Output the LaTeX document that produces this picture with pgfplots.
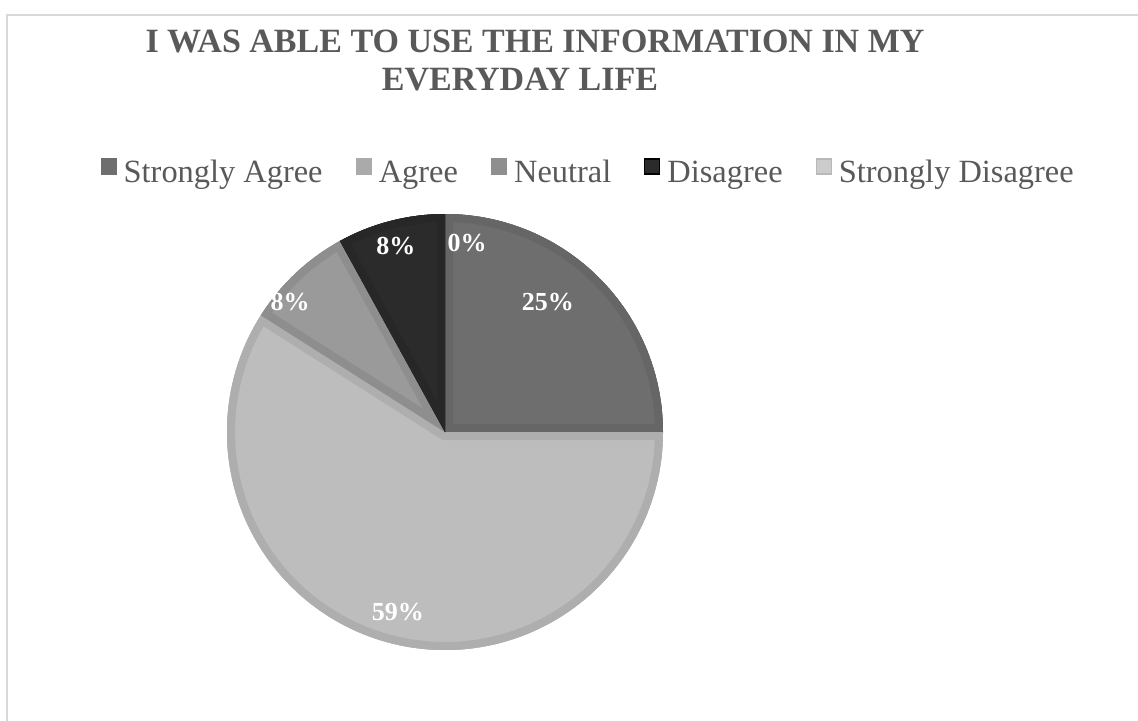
\documentclass[border=0pt]{standalone}
\usepackage{pgfplots}
\pgfplotsset{compat=1.18}
\usepackage{fontspec}
\setmainfont{Liberation Serif}

\definecolor{saF}{HTML}{6E6E6E}\definecolor{saB}{HTML}{666666}
\definecolor{agF}{HTML}{BDBDBD}\definecolor{agB}{HTML}{AEAEAE}
\definecolor{neF}{HTML}{9A9A9A}\definecolor{neB}{HTML}{8E8E8E}
\definecolor{diF}{HTML}{2B2B2B}\definecolor{diB}{HTML}{272727}
\definecolor{sdF}{HTML}{CCCCCC}\definecolor{sdB}{HTML}{B8B8B8}
\definecolor{txt}{HTML}{595959}
\definecolor{framec}{HTML}{D9D9D9}

% shares in percent, clockwise from 12 o'clock
\def\pSA{25}
\def\pAG{59}
\def\pNE{8}
\def\pDI{8}
\def\pSD{0}

\pgfmathsetmacro\aA{90}
\pgfmathsetmacro\aB{\aA-3.6*\pSA}
\pgfmathsetmacro\aC{\aB-3.6*\pAG}
\pgfmathsetmacro\aD{\aC-3.6*\pNE}
\pgfmathsetmacro\aE{\aD-3.6*\pDI}

\tikzset{
  slice/.style 2 args={fill=#1, draw=none,
    postaction={clip, postaction={draw=#2, line width=8pt}}},
  lbl/.style={text=white, font=\bfseries\fontsize{13}{15}\selectfont},
}

\begin{document}
\begin{tikzpicture}
\useasboundingbox (0pt,0pt) rectangle (569pt,-360pt);
\fill[white] (0pt,0pt) rectangle (569pt,-360pt);
\draw[framec, line width=1pt] (3.5pt,-7.5pt) rectangle (580pt,-370pt);

\node[txt, anchor=base, font=\bfseries\fontsize{17}{19}\selectfont]
  at (267.5pt,-26pt) {I WAS ABLE TO USE THE INFORMATION IN MY};
\node[txt, anchor=base, font=\bfseries\fontsize{17}{19}\selectfont]
  at (260pt,-45pt) {EVERYDAY LIFE};

\begin{axis}[
  at={(222.5pt,-216pt)}, anchor=center,
  width=218pt, height=218pt, scale only axis,
  xmin=-1, xmax=1, ymin=-1, ymax=1,
  hide axis, clip=false,
  legend columns=5,
  legend image code/.code={\draw[#1, line width=0.6pt] (0pt,-0.5pt) rectangle (7.5pt,7pt);},
  legend style={at={(-0.291,1.096)}, anchor=west, draw=none, fill=none,
    inner sep=0pt, text=txt, font=\fontsize{16.2}{18}\selectfont,
    nodes={inner sep=0pt},
    /tikz/every odd column/.append style={column sep=3.5pt},
    /tikz/every even column/.append style={column sep=16.5pt}},
]
\addplot[slice={saF}{saB}, domain=\aB:\aA, samples=60, forget plot]
  ({cos(x)},{sin(x)}) -- (0,0) -- cycle;
\addplot[slice={agF}{agB}, domain=\aC:\aB, samples=120, forget plot]
  ({cos(x)},{sin(x)}) -- (0,0) -- cycle;
\addplot[slice={neF}{neB}, domain=\aD:\aC, samples=30, forget plot]
  ({cos(x)},{sin(x)}) -- (0,0) -- cycle;
\addplot[slice={diF}{diB}, domain=\aE:\aD, samples=30, forget plot]
  ({cos(x)},{sin(x)}) -- (0,0) -- cycle;

\addlegendimage{fill=saF, draw=saF}
\addlegendentry{Strongly Agree}
\addlegendimage{fill=agF!90!black, draw=agF!90!black}
\addlegendentry{Agree}
\addlegendimage{fill=neF!93!black, draw=neF!93!black}
\addlegendentry{Neutral}
\addlegendimage{fill=diF, draw=black}
\addlegendentry{Disagree}
\addlegendimage{fill=sdF, draw=sdB}
\addlegendentry{Strongly Disagree}

\node[lbl] at (axis cs:0.472,0.596) {\pSA\%};
\node[lbl] at (axis cs:-0.216,-0.826) {\pAG\%};
\node[lbl] at (axis cs:-0.711,0.596) {\pNE\%};
\node[lbl] at (axis cs:-0.225,0.853) {\pDI\%};
\node[lbl] at (axis cs:0.101,0.867) {\pSD\%};
\end{axis}
\end{tikzpicture}
\end{document}
